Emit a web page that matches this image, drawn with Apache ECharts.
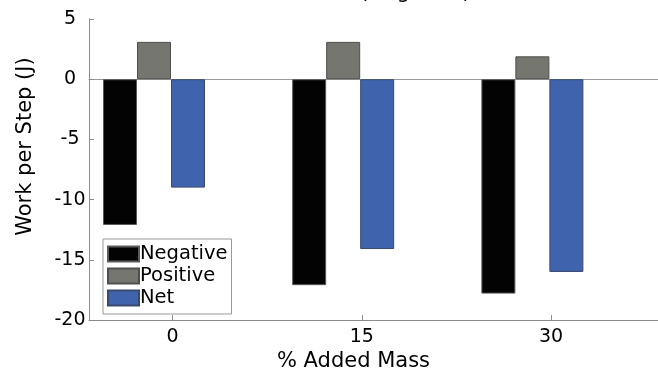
<!DOCTYPE html>
<html>
<head>
<meta charset="utf-8">
<script src="https://cdn.jsdelivr.net/npm/echarts@6/dist/echarts.min.js"></script>
<style>html,body{margin:0;padding:0;background:#fff}#c{width:658px;height:377px}</style>
</head>
<body>
<div id="c"></div>
<script>
var masses = [0, 15, 30];
var tickLabels = [0, 15, 30];
var negative = [-12.1, -17.1, -17.8];
var positive = [3.1, 3.1, 1.9];
var net = [-9.0, -14.1, -16.0];
var seriesNames = ['Negative', 'Positive', 'Net'];

function pairs(vals) { return masses.map(function (m, i) { return [m, vals[i]]; }); }

var FONT = 'DejaVu Sans';
var axisGray = '#8c8c8c';
var chart = echarts.init(document.getElementById('c'), null, { renderer: 'canvas' });

var barBase = { type: 'bar', xAxisIndex: 1, barWidth: 34, barGap: '0%', animation: false };

chart.setOption({
  animation: false,
  textStyle: { fontFamily: FONT },
  graphic: [{
    type: 'text', left: 360, top: -17.5,
    style: { text: '(Negative)', font: '21px "DejaVu Sans"', fill: '#000' }
  }],
  grid: { left: 89, right: 0, top: 19, bottom: 53.5 },
  legend: {
    orient: 'vertical', left: 103, top: 239,
    padding: [5, 4, 6, 4], itemGap: 2, itemWidth: 31, itemHeight: 15,
    backgroundColor: '#fff', borderColor: '#999', borderWidth: 1,
    icon: 'rect',
    textStyle: { fontFamily: FONT, fontSize: 19.5, color: '#000', lineHeight: 20, padding: [0, 0, 0, -4] },
    data: seriesNames
  },
  xAxis: [{
    type: 'value', min: -6.628, max: 38.48, position: 'bottom',
    splitLine: { show: false },
    axisLine: { onZero: false, lineStyle: { color: axisGray, width: 1 } },
    axisTick: { inside: true, length: 5, customValues: tickLabels, lineStyle: { color: axisGray } },
    axisLabel: { customValues: tickLabels, fontFamily: FONT, fontSize: 19, color: '#000', margin: 7 },
    name: '% Added Mass', nameLocation: 'middle', nameGap: 24,
    nameTextStyle: { fontFamily: FONT, fontSize: 21, color: '#000', padding: [0, 40, 0, 0] }
  }, {
    type: 'value', min: -5.153, max: 39.96, position: 'top',
    splitLine: { show: false },
    axisLine: { show: true, onZero: true, lineStyle: { color: '#9a9a9a', width: 1 } },
    axisTick: { show: false }, axisLabel: { show: false }
  }],
  yAxis: {
    type: 'value', min: -20, max: 5, interval: 5, position: 'left',
    splitLine: { show: false },
    axisLine: { show: true, onZero: false, lineStyle: { color: axisGray, width: 1 } },
    axisTick: { show: true, inside: true, length: 5, lineStyle: { color: axisGray } },
    axisLabel: { fontFamily: FONT, fontSize: 19, color: '#000', align: 'center', margin: 19, padding: [0, 0, 4, 0] },
    name: 'Work per Step (J)', nameLocation: 'middle', nameGap: 53, nameRotate: 90,
    nameTextStyle: { fontFamily: FONT, fontSize: 21, color: '#000', padding: [0, 0, 0, 46] }
  },
  series: [
    Object.assign({}, barBase, { name: seriesNames[0], data: pairs(negative), itemStyle: { color: '#030303', borderColor: '#5a5a5a', borderWidth: 1 } }),
    Object.assign({}, barBase, { name: seriesNames[1], data: pairs(positive), itemStyle: { color: '#767670', borderColor: '#4e4e4e', borderWidth: 1 } }),
    Object.assign({}, barBase, { name: seriesNames[2], data: pairs(net), itemStyle: { color: '#4063ad', borderColor: '#3a4a6e', borderWidth: 1 } })
  ]
});
</script>
</body>
</html>
